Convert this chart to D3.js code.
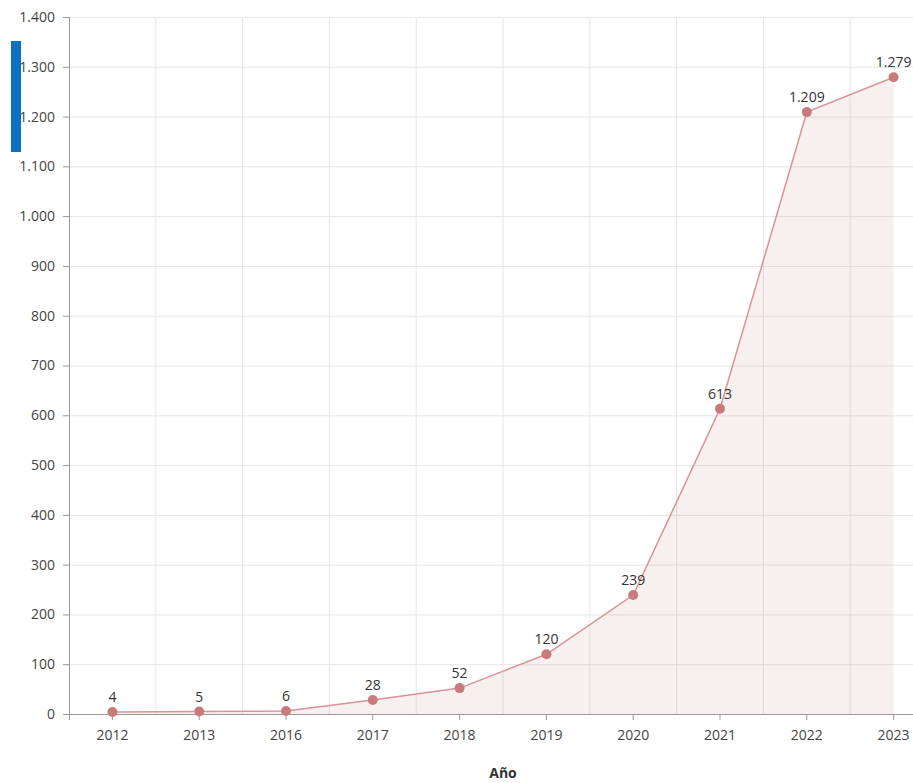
<!DOCTYPE html>
<html>
<head>
<meta charset="utf-8">
<script src="https://cdn.jsdelivr.net/npm/d3@7"></script>
<style>
  body { margin: 0; background: #fff; font-family: "Open Sans", sans-serif; }
  svg { display: block; }
  .axis text { font-size: 14px; fill: #444; font-family: "Open Sans", sans-serif; }
  .axis path, .axis line { stroke: #999; }
  .grid line { stroke: #e6e6e6; }
  .grid path { display: none; }
</style>
</head>
<body>
<div id="chart"></div>
<script>
// data
var years = ['2012', '2013', '2016', '2017', '2018', '2019', '2020', '2021', '2022', '2023'];
var counts = [4, 5, 6, 28, 52, 120, 239, 613, 1209, 1279];
var yTicks = [0, 100, 200, 300, 400, 500, 600, 700, 800, 900, 1000, 1100, 1200, 1300, 1400];

var svgWidth = 913, svgHeight = 783;
var margin = { top: 17, right: -24, bottom: 69, left: 69 };
var width = svgWidth - margin.left - margin.right;
var height = svgHeight - margin.top - margin.bottom;

var es = d3.formatLocale({ decimal: ",", thousands: ".", grouping: [3], currency: ["", "€"] });
var fmt = es.format(",d");

var dataset = years.map(function (y, i) { return [y, counts[i]]; });

var svg = d3.select('#chart').append('svg')
  .attr('width', svgWidth)
  .attr('height', svgHeight);

var xScale = d3.scaleBand()
  .range([0, width])
  .padding(0)
  .domain(years);
var yScale = d3.scaleLinear()
  .range([height, 0])
  .domain([0, 1400]);

var g = svg.append('g')
  .attr('transform', 'translate(' + margin.left + ',' + margin.top + ')');

var cx = function (d) { return xScale(d[0]) + xScale.bandwidth() / 2; };

// horizontal grid
g.append('g')
  .attr('class', 'grid')
  .call(d3.axisLeft(yScale).tickValues(yTicks).tickSize(-width).tickFormat(''));

// vertical grid at band edges
g.append('g').attr('class', 'grid')
  .selectAll('line')
  .data(years.slice(1))
  .enter().append('line')
  .attr('x1', function (d) { return xScale(d); })
  .attr('x2', function (d) { return xScale(d); })
  .attr('y1', 0)
  .attr('y2', height);

// area
var area = d3.area()
  .x(cx)
  .y0(height)
  .y1(function (d) { return yScale(d[1]); });

g.append('path')
  .attr('d', area(dataset))
  .attr('fill', '#c97b7b')
  .attr('fill-opacity', 0.12);

// line
var line = d3.line()
  .x(cx)
  .y(function (d) { return yScale(d[1]); });

g.append('path')
  .attr('d', line(dataset))
  .attr('fill', 'none')
  .attr('stroke', '#d99295')
  .attr('stroke-width', 1.5);

// axes
g.append('g')
  .attr('class', 'axis axis--x')
  .attr('transform', 'translate(0,' + height + ')')
  .call(d3.axisBottom(xScale).tickSizeOuter(0).tickSize(6).tickPadding(10));

g.append('g')
  .attr('class', 'axis axis--y')
  .call(d3.axisLeft(yScale).tickValues(yTicks).tickFormat(fmt).tickSizeOuter(0).tickSize(6).tickPadding(8));

// dots
g.selectAll('circle.dot')
  .data(dataset)
  .enter().append('circle')
  .attr('class', 'dot')
  .attr('cx', cx)
  .attr('cy', function (d) { return yScale(d[1]); })
  .attr('r', 5)
  .attr('fill', '#c97b7b');

// value labels
g.selectAll('text.val')
  .data(dataset)
  .enter().append('text')
  .attr('class', 'val')
  .attr('x', cx)
  .attr('y', function (d) { return yScale(d[1]) - 10; })
  .attr('text-anchor', 'middle')
  .attr('font-size', '14px')
  .attr('fill', '#333')
  .text(function (d) { return fmt(d[1]); });

// axis title
svg.append('text')
  .attr('x', margin.left + width / 2)
  .attr('y', 778)
  .attr('text-anchor', 'middle')
  .attr('font-size', '14px')
  .attr('font-weight', 'bold')
  .attr('fill', '#333')
  .text('Año');

// blue marker on the left
svg.append('rect')
  .attr('x', 11)
  .attr('y', 41)
  .attr('width', 10)
  .attr('height', 111)
  .attr('fill', '#0a72c2');
</script>
</body>
</html>
